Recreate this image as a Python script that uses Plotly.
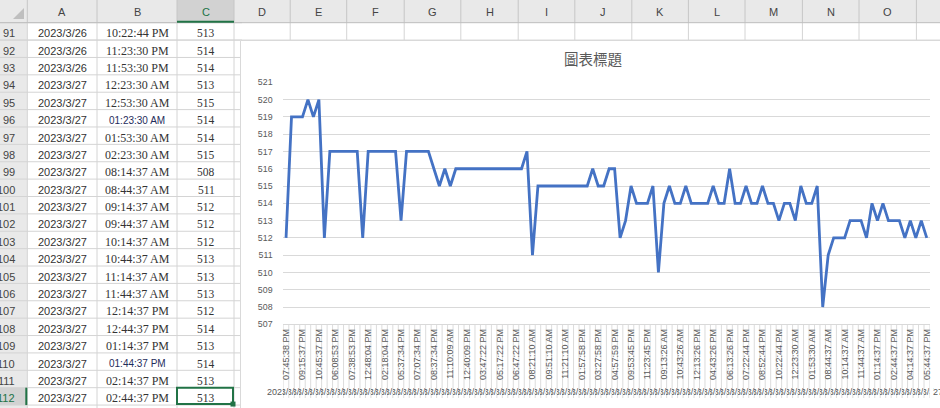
import plotly.graph_objects as go

W, H = 940, 408

# ---------------- data ----------------
values = [512, 519, 519, 519, 520, 519, 520, 512,
          517, 517, 517, 517, 517, 517,
          512,
          517, 517, 517, 517, 517, 517,
          513,
          517, 517, 517, 517, 517,
          516, 515, 516, 515,
          516, 516, 516, 516, 516, 516, 516, 516, 516, 516, 516, 516, 516,
          517, 511,
          515, 515, 515, 515, 515, 515, 515, 515, 515, 515,
          516, 515, 515, 516, 516, 512, 513, 515, 514, 514, 514, 515, 510,
          514, 515, 514, 514, 515, 514, 514, 514, 514, 515, 514, 514, 516,
          514, 514, 515, 514, 514, 515, 514, 514,
          513, 514, 514, 513, 515, 514, 514, 515, 508, 511, 512, 512, 512,
          513, 513, 513, 512, 514, 513, 514, 513, 513,
          513, 512, 513, 512, 513, 512]

tick_labels = ["07:45:38 PM", "09:15:37 PM", "10:45:37 PM", "06:08:53 PM", "07:38:53 PM",
               "12:48:04 PM", "02:18:04 PM", "05:37:34 PM", "07:07:34 PM", "08:37:34 PM",
               "11:10:09 AM", "12:40:09 PM", "03:47:22 PM", "05:17:22 PM", "06:47:22 PM",
               "08:21:10 AM", "09:51:10 AM", "11:21:10 AM", "01:57:58 PM", "03:27:58 PM",
               "04:57:59 PM", "09:53:45 PM", "11:23:45 PM", "09:13:26 AM", "10:43:26 AM",
               "12:13:26 PM", "04:43:26 PM", "06:13:26 PM", "07:22:44 PM", "08:52:44 PM",
               "10:22:44 PM", "12:23:30 AM", "01:53:30 AM", "08:44:37 AM", "10:14:37 AM",
               "11:44:37 AM", "01:14:37 PM", "02:44:37 PM", "04:14:37 PM", "05:44:37 PM"]

dates = (["2023/3/21"] * 9 + ["2023/3/22"] * 6 + ["2023/3/23"] * 15 +
         ["2023/3/24"] * 15 + ["2023/3/25"] * 23 + ["2023/3/26"] * 25 +
         ["2023/3/27"] * 25)

sheet_rows = list(range(91, 113))
sheet_times = ["10:22:44 PM", "11:23:30 PM", "11:53:30 PM", "12:23:30 AM", "12:53:30 AM",
               "01:23:30 AM", "01:53:30 AM", "02:23:30 AM", "08:14:37 AM", "08:44:37 AM",
               "09:14:37 AM", "09:44:37 AM", "10:14:37 AM", "10:44:37 AM", "11:14:37 AM",
               "11:44:37 AM", "12:14:37 PM", "12:44:37 PM", "01:14:37 PM", "01:44:37 PM",
               "02:14:37 PM", "02:44:37 PM"]
sheet_dates = dates[90:112]
sheet_values = values[90:112]
sans_rows = [96, 110]

col_letters = ["A", "B", "C", "D", "E", "F", "G", "H", "I", "J", "K", "L", "M", "N", "O"]
chart_title = "圖表標題"

# ---------------- helpers ----------------
def px(x):
    return x / W

def py(y):
    return 1 - y / H

shapes = []
ann = []

def line(x0, y0, x1, y1, color, width=1, layer="below"):
    shapes.append(dict(type="line", xref="paper", yref="paper",
                       x0=px(x0), y0=py(y0), x1=px(x1), y1=py(y1),
                       line=dict(color=color, width=width), layer=layer))

def rect(x0, y0, x1, y1, fill, lc=None, lw=0, layer="below"):
    shapes.append(dict(type="rect", xref="paper", yref="paper",
                       x0=px(x0), y0=py(y0), x1=px(x1), y1=py(y1),
                       fillcolor=fill, line=dict(color=lc or fill, width=lw), layer=layer))

def text(x, y, s, size=11, color="#333333", family="Liberation Sans", xa="center"):
    ann.append(dict(x=px(x), y=py(y), xref="paper", yref="paper", text=s,
                    showarrow=False, xanchor=xa, yanchor="middle",
                    font=dict(size=size, color=color, family=family)))

# ---------------- spreadsheet ----------------
HDR = 22.7
ROWH = 17.38
col_x = [27.3, 97, 177, 234, 290.2, 346.7, 404.2, 460.8, 518.2, 574.8,
         631.8, 688.4, 745, 802.4, 859, 916.4]
GRID = "#d4d4d4"
HBG = "#e9e9e9"
GREEN = "#217346"

rect(0, 0, W, HDR, HBG)
rect(0, HDR, col_x[0], H, HBG)
rect(col_x[2], 0, col_x[3], HDR, "#d2d2d2")
sel_top = HDR + (112 - 91) * ROWH
rect(0, sel_top, col_x[0], sel_top + ROWH, "#d2d2d2")

for k in range(len(sheet_rows) + 1):
    yb = HDR + k * ROWH
    line(0, yb, 242, yb, GRID)
line(0, HDR + ROWH, W, HDR + ROWH, GRID)
for i, cx in enumerate(col_x):
    if i <= 3:
        line(cx, HDR, cx, H, GRID)
    else:
        line(cx, HDR, cx, HDR + ROWH, GRID)
    line(cx, 0, cx, HDR, "#c6c6c6")
line(0, HDR, W, HDR, "#bdbdbd")
line(col_x[2], HDR - 1, col_x[3], HDR - 1, GREEN, 2)
line(col_x[0] - 1, sel_top, col_x[0] - 1, sel_top + ROWH, GREEN, 2)

shapes.append(dict(type="path", xref="paper", yref="paper",
                   path=f"M {px(13)} {py(19)} L {px(24)} {py(19)} L {px(24)} {py(8)} Z",
                   fillcolor="#bfbfbf", line=dict(width=0), layer="below"))

for i, letter in enumerate(col_letters):
    cx = (col_x[i] + col_x[i + 1]) / 2
    text(cx, 11.5, letter, 11, GREEN if letter == "C" else "#444444")

for k, r in enumerate(sheet_rows):
    yc = HDR + k * ROWH + 10.6
    text(16.7, yc, str(r), 11, GREEN if r == 112 else "#444444", xa="right")
    text((col_x[0] + col_x[1]) / 2, yc, sheet_dates[k], 11, "#333333")
    if r in sans_rows:
        text((col_x[1] + col_x[2]) / 2, yc, sheet_times[k], 10, "#1f2d5c")
    else:
        text((col_x[1] + col_x[2]) / 2, yc, sheet_times[k], 12, "#333333", "Liberation Serif")
    text((col_x[2] + col_x[3]) / 2 + 0.5, yc, str(sheet_values[k]), 11.5, "#333333", "Liberation Serif")

shapes.append(dict(type="rect", xref="paper", yref="paper",
                   x0=px(col_x[2]), y0=py(sel_top), x1=px(col_x[3] - 1), y1=py(sel_top + ROWH - 1),
                   line=dict(color=GREEN, width=2), fillcolor="rgba(0,0,0,0)", layer="above"))
rect(col_x[3] - 3.5, sel_top + ROWH - 3.5, col_x[3] + 1.5, sel_top + ROWH + 1.5, GREEN, layer="above")

# ---------------- chart box ----------------
rect(240.5, 40.5, W + 5, H + 5, "white", "#d9d9d9", 1)

PL, PR, PT, PB = 283.3, 929.5, 82.3, 324.3
n = len(values)

for i in range(n + 1):
    shapes.append(dict(type="line", xref="x", yref="paper", x0=i - 0.5, x1=i - 0.5,
                       y0=py(PB), y1=py(398), line=dict(color="#dcdcdc", width=1), layer="below"))

for i, d in enumerate(dates):
    ann.append(dict(x=i, y=py(392), xref="x", yref="paper", text=d, showarrow=False,
                    xanchor="center", yanchor="middle", width=5.5, align="center",
                    font=dict(size=9, color="#595959", family="Liberation Sans")))
ann.append(dict(x=px(265), y=py(392), xref="paper", yref="paper", text=dates[0], showarrow=False,
                xanchor="left", yanchor="middle", width=17, align="left",
                font=dict(size=9, color="#595959", family="Liberation Sans")))
ann.append(dict(x=px(PR + 1), y=py(392), xref="paper", yref="paper", text=dates[-1], showarrow=False,
                xanchor="left", yanchor="middle", width=10, align="right",
                font=dict(size=9, color="#595959", family="Liberation Sans")))

text(592.5, 58.3, chart_title, 14.5, "#595959", "Noto Sans CJK TC")

fig = go.Figure()
fig.add_trace(go.Scatter(x=list(range(n)), y=values, mode="lines",
                         line=dict(color="#4472C4", width=2.8), hoverinfo="skip"))

fig.update_layout(
    width=W, height=H, margin=dict(l=0, r=0, t=0, b=0, pad=0, autoexpand=False),
    paper_bgcolor="white", plot_bgcolor="rgba(0,0,0,0)",
    showlegend=False, hovermode=False,
    shapes=shapes, annotations=ann,
    xaxis=dict(domain=[px(PL), px(PR)], range=[-0.5, n - 0.5], automargin=False,
               tickmode="array", tickvals=list(range(0, n, 3)), ticktext=tick_labels,
               tickangle=-90, tickfont=dict(size=9, color="#595959", family="Liberation Sans"),
               showgrid=False, zeroline=False, showline=True, linecolor="#d9d9d9",
               ticks="", fixedrange=True),
    yaxis=dict(domain=[py(PB), py(PT)], range=[507, 521], dtick=1, tick0=507, automargin=False,
               gridcolor="#d9d9d9", gridwidth=1, zeroline=False, showline=False,
               tickfont=dict(size=8.8, color="#595959", family="Liberation Sans"),
               ticks="outside", ticklen=8, tickcolor="rgba(0,0,0,0)", fixedrange=True),
)

fig.write_html("out.html", config={"displayModeBar": False},
               post_script="document.body.style.margin='0px';document.body.style.overflow='hidden';")
